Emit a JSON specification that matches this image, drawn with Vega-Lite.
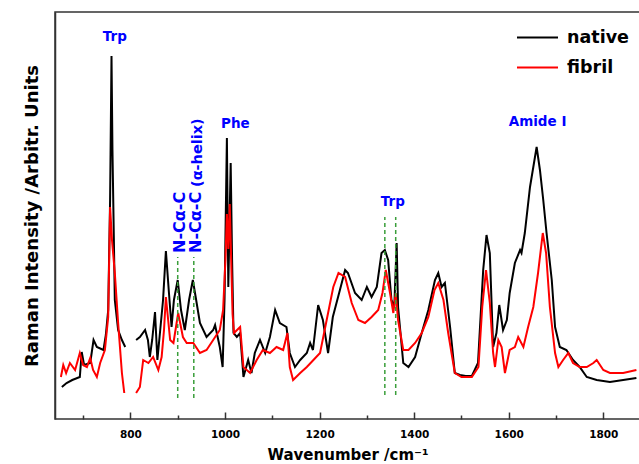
{
  "$schema": "https://vega.github.io/schema/vega-lite/v6.json",
  "width": 585,
  "height": 407,
  "autosize": {"type": "none"},
  "padding": {"left": 55, "top": 12, "right": 0, "bottom": 45},
  "background": "white",
  "config": {"view": {"stroke": "#333333", "strokeWidth": 1.5}, "font": "DejaVu Sans"},
  "datasets": {
    "spec": [
      {"s":"native","g":"a","wn":655,"I":32},{"s":"native","g":"a","wn":665,"I":36},{"s":"native","g":"a","wn":677,"I":39},{"s":"native","g":"a","wn":693,"I":42},{"s":"native","g":"a","wn":697,"I":67},{"s":"native","g":"a","wn":702,"I":54},{"s":"native","g":"a","wn":715,"I":56},{"s":"native","g":"a","wn":722,"I":79},{"s":"native","g":"a","wn":729,"I":72},{"s":"native","g":"a","wn":743,"I":69},{"s":"native","g":"a","wn":748,"I":84},{"s":"native","g":"a","wn":753,"I":109},{"s":"native","g":"a","wn":757,"I":219},{"s":"native","g":"a","wn":760,"I":363},{"s":"native","g":"a","wn":762,"I":269},{"s":"native","g":"a","wn":767,"I":119},{"s":"native","g":"a","wn":774,"I":89},{"s":"native","g":"a","wn":782,"I":79},{"s":"native","g":"a","wn":789,"I":72},
      {"s":"native","g":"b","wn":812,"I":79},{"s":"native","g":"b","wn":820,"I":82},{"s":"native","g":"b","wn":831,"I":89},{"s":"native","g":"b","wn":837,"I":79},{"s":"native","g":"b","wn":841,"I":62},{"s":"native","g":"b","wn":846,"I":79},{"s":"native","g":"b","wn":852,"I":107},{"s":"native","g":"b","wn":857,"I":59},{"s":"native","g":"b","wn":863,"I":89},{"s":"native","g":"b","wn":869,"I":119},{"s":"native","g":"b","wn":875,"I":168},{"s":"native","g":"b","wn":881,"I":129},{"s":"native","g":"b","wn":887,"I":92},{"s":"native","g":"b","wn":892,"I":119},{"s":"native","g":"b","wn":900,"I":139},{"s":"native","g":"b","wn":907,"I":109},{"s":"native","g":"b","wn":915,"I":89},{"s":"native","g":"b","wn":924,"I":119},{"s":"native","g":"b","wn":932,"I":139},{"s":"native","g":"b","wn":939,"I":119},{"s":"native","g":"b","wn":947,"I":96},{"s":"native","g":"b","wn":961,"I":82},{"s":"native","g":"b","wn":975,"I":89},{"s":"native","g":"b","wn":979,"I":94},{"s":"native","g":"b","wn":989,"I":72},{"s":"native","g":"b","wn":995,"I":52},{"s":"native","g":"b","wn":999,"I":119},{"s":"native","g":"b","wn":1004,"I":281},{"s":"native","g":"b","wn":1007,"I":132},{"s":"native","g":"b","wn":1012,"I":256},{"s":"native","g":"b","wn":1015,"I":159},{"s":"native","g":"b","wn":1018,"I":86},{"s":"native","g":"b","wn":1025,"I":82},{"s":"native","g":"b","wn":1032,"I":86},{"s":"native","g":"b","wn":1039,"I":42},{"s":"native","g":"b","wn":1049,"I":59},{"s":"native","g":"b","wn":1056,"I":46},{"s":"native","g":"b","wn":1063,"I":66},{"s":"native","g":"b","wn":1074,"I":79},{"s":"native","g":"b","wn":1085,"I":66},{"s":"native","g":"b","wn":1095,"I":82},{"s":"native","g":"b","wn":1106,"I":109},{"s":"native","g":"b","wn":1116,"I":96},{"s":"native","g":"b","wn":1130,"I":92},{"s":"native","g":"b","wn":1137,"I":66},{"s":"native","g":"b","wn":1148,"I":52},{"s":"native","g":"b","wn":1159,"I":59},{"s":"native","g":"b","wn":1173,"I":66},{"s":"native","g":"b","wn":1180,"I":76},{"s":"native","g":"b","wn":1186,"I":69},{"s":"native","g":"b","wn":1197,"I":114},{"s":"native","g":"b","wn":1207,"I":99},{"s":"native","g":"b","wn":1218,"I":66},{"s":"native","g":"b","wn":1228,"I":102},{"s":"native","g":"b","wn":1243,"I":129},{"s":"native","g":"b","wn":1254,"I":149},{"s":"native","g":"b","wn":1260,"I":146},{"s":"native","g":"b","wn":1275,"I":126},{"s":"native","g":"b","wn":1289,"I":119},{"s":"native","g":"b","wn":1300,"I":132},{"s":"native","g":"b","wn":1310,"I":122},{"s":"native","g":"b","wn":1321,"I":132},{"s":"native","g":"b","wn":1331,"I":166},{"s":"native","g":"b","wn":1338,"I":169},{"s":"native","g":"b","wn":1345,"I":159},{"s":"native","g":"b","wn":1352,"I":119},{"s":"native","g":"b","wn":1358,"I":112},{"s":"native","g":"b","wn":1363,"I":176},{"s":"native","g":"b","wn":1366,"I":112},{"s":"native","g":"b","wn":1377,"I":56},{"s":"native","g":"b","wn":1388,"I":52},{"s":"native","g":"b","wn":1402,"I":62},{"s":"native","g":"b","wn":1416,"I":86},{"s":"native","g":"b","wn":1430,"I":109},{"s":"native","g":"b","wn":1444,"I":139},{"s":"native","g":"b","wn":1451,"I":146},{"s":"native","g":"b","wn":1458,"I":132},{"s":"native","g":"b","wn":1465,"I":136},{"s":"native","g":"b","wn":1476,"I":92},{"s":"native","g":"b","wn":1486,"I":46},{"s":"native","g":"b","wn":1497,"I":44},{"s":"native","g":"b","wn":1509,"I":43},{"s":"native","g":"b","wn":1522,"I":43},{"s":"native","g":"b","wn":1535,"I":56},{"s":"native","g":"b","wn":1546,"I":149},{"s":"native","g":"b","wn":1553,"I":184},{"s":"native","g":"b","wn":1560,"I":166},{"s":"native","g":"b","wn":1567,"I":72},{"s":"native","g":"b","wn":1574,"I":86},{"s":"native","g":"b","wn":1580,"I":114},{"s":"native","g":"b","wn":1588,"I":89},{"s":"native","g":"b","wn":1596,"I":99},{"s":"native","g":"b","wn":1602,"I":126},{"s":"native","g":"b","wn":1613,"I":156},{"s":"native","g":"b","wn":1624,"I":169},{"s":"native","g":"b","wn":1627,"I":166},{"s":"native","g":"b","wn":1634,"I":186},{"s":"native","g":"b","wn":1645,"I":232},{"s":"native","g":"b","wn":1659,"I":272},{"s":"native","g":"b","wn":1666,"I":249},{"s":"native","g":"b","wn":1673,"I":219},{"s":"native","g":"b","wn":1680,"I":186},{"s":"native","g":"b","wn":1691,"I":139},{"s":"native","g":"b","wn":1698,"I":92},{"s":"native","g":"b","wn":1708,"I":72},{"s":"native","g":"b","wn":1722,"I":69},{"s":"native","g":"b","wn":1736,"I":59},{"s":"native","g":"b","wn":1750,"I":52},{"s":"native","g":"b","wn":1765,"I":42},{"s":"native","g":"b","wn":1786,"I":39},{"s":"native","g":"b","wn":1814,"I":37},{"s":"native","g":"b","wn":1842,"I":39},{"s":"native","g":"b","wn":1870,"I":41},
      {"s":"fibril","g":"a","wn":653,"I":42},{"s":"fibril","g":"a","wn":658,"I":54},{"s":"fibril","g":"a","wn":664,"I":46},{"s":"fibril","g":"a","wn":672,"I":56},{"s":"fibril","g":"a","wn":683,"I":49},{"s":"fibril","g":"a","wn":693,"I":66},{"s":"fibril","g":"a","wn":700,"I":54},{"s":"fibril","g":"a","wn":708,"I":52},{"s":"fibril","g":"a","wn":715,"I":61},{"s":"fibril","g":"a","wn":721,"I":49},{"s":"fibril","g":"a","wn":729,"I":42},{"s":"fibril","g":"a","wn":736,"I":56},{"s":"fibril","g":"a","wn":746,"I":69},{"s":"fibril","g":"a","wn":753,"I":102},{"s":"fibril","g":"a","wn":757,"I":212},{"s":"fibril","g":"a","wn":761,"I":179},{"s":"fibril","g":"a","wn":767,"I":146},{"s":"fibril","g":"a","wn":774,"I":96},{"s":"fibril","g":"a","wn":782,"I":46},{"s":"fibril","g":"a","wn":787,"I":26},
      {"s":"fibril","g":"b","wn":812,"I":26},{"s":"fibril","g":"b","wn":820,"I":32},{"s":"fibril","g":"b","wn":827,"I":59},{"s":"fibril","g":"b","wn":838,"I":56},{"s":"fibril","g":"b","wn":848,"I":62},{"s":"fibril","g":"b","wn":859,"I":49},{"s":"fibril","g":"b","wn":866,"I":62},{"s":"fibril","g":"b","wn":871,"I":89},{"s":"fibril","g":"b","wn":875,"I":122},{"s":"fibril","g":"b","wn":884,"I":79},{"s":"fibril","g":"b","wn":891,"I":76},{"s":"fibril","g":"b","wn":901,"I":106},{"s":"fibril","g":"b","wn":911,"I":82},{"s":"fibril","g":"b","wn":919,"I":76},{"s":"fibril","g":"b","wn":933,"I":76},{"s":"fibril","g":"b","wn":947,"I":66},{"s":"fibril","g":"b","wn":961,"I":69},{"s":"fibril","g":"b","wn":975,"I":79},{"s":"fibril","g":"b","wn":989,"I":89},{"s":"fibril","g":"b","wn":996,"I":109},{"s":"fibril","g":"b","wn":1001,"I":160},{"s":"fibril","g":"b","wn":1004,"I":205},{"s":"fibril","g":"b","wn":1007,"I":170},{"s":"fibril","g":"b","wn":1010,"I":215},{"s":"fibril","g":"b","wn":1013,"I":160},{"s":"fibril","g":"b","wn":1016,"I":105},{"s":"fibril","g":"b","wn":1019,"I":86},{"s":"fibril","g":"b","wn":1032,"I":92},{"s":"fibril","g":"b","wn":1039,"I":52},{"s":"fibril","g":"b","wn":1053,"I":46},{"s":"fibril","g":"b","wn":1067,"I":59},{"s":"fibril","g":"b","wn":1080,"I":69},{"s":"fibril","g":"b","wn":1095,"I":66},{"s":"fibril","g":"b","wn":1109,"I":72},{"s":"fibril","g":"b","wn":1123,"I":69},{"s":"fibril","g":"b","wn":1132,"I":86},{"s":"fibril","g":"b","wn":1137,"I":52},{"s":"fibril","g":"b","wn":1144,"I":39},{"s":"fibril","g":"b","wn":1159,"I":46},{"s":"fibril","g":"b","wn":1173,"I":52},{"s":"fibril","g":"b","wn":1187,"I":59},{"s":"fibril","g":"b","wn":1201,"I":66},{"s":"fibril","g":"b","wn":1215,"I":99},{"s":"fibril","g":"b","wn":1229,"I":132},{"s":"fibril","g":"b","wn":1240,"I":146},{"s":"fibril","g":"b","wn":1254,"I":142},{"s":"fibril","g":"b","wn":1268,"I":116},{"s":"fibril","g":"b","wn":1282,"I":99},{"s":"fibril","g":"b","wn":1296,"I":96},{"s":"fibril","g":"b","wn":1310,"I":102},{"s":"fibril","g":"b","wn":1324,"I":109},{"s":"fibril","g":"b","wn":1333,"I":126},{"s":"fibril","g":"b","wn":1340,"I":149},{"s":"fibril","g":"b","wn":1349,"I":126},{"s":"fibril","g":"b","wn":1356,"I":106},{"s":"fibril","g":"b","wn":1361,"I":126},{"s":"fibril","g":"b","wn":1366,"I":99},{"s":"fibril","g":"b","wn":1377,"I":69},{"s":"fibril","g":"b","wn":1388,"I":69},{"s":"fibril","g":"b","wn":1402,"I":76},{"s":"fibril","g":"b","wn":1416,"I":86},{"s":"fibril","g":"b","wn":1430,"I":102},{"s":"fibril","g":"b","wn":1443,"I":129},{"s":"fibril","g":"b","wn":1451,"I":136},{"s":"fibril","g":"b","wn":1462,"I":119},{"s":"fibril","g":"b","wn":1472,"I":86},{"s":"fibril","g":"b","wn":1486,"I":46},{"s":"fibril","g":"b","wn":1500,"I":42},{"s":"fibril","g":"b","wn":1522,"I":42},{"s":"fibril","g":"b","wn":1536,"I":52},{"s":"fibril","g":"b","wn":1544,"I":112},{"s":"fibril","g":"b","wn":1552,"I":149},{"s":"fibril","g":"b","wn":1560,"I":116},{"s":"fibril","g":"b","wn":1567,"I":66},{"s":"fibril","g":"b","wn":1571,"I":52},{"s":"fibril","g":"b","wn":1578,"I":79},{"s":"fibril","g":"b","wn":1585,"I":72},{"s":"fibril","g":"b","wn":1592,"I":46},{"s":"fibril","g":"b","wn":1602,"I":69},{"s":"fibril","g":"b","wn":1613,"I":72},{"s":"fibril","g":"b","wn":1620,"I":82},{"s":"fibril","g":"b","wn":1631,"I":72},{"s":"fibril","g":"b","wn":1641,"I":92},{"s":"fibril","g":"b","wn":1652,"I":112},{"s":"fibril","g":"b","wn":1662,"I":146},{"s":"fibril","g":"b","wn":1672,"I":186},{"s":"fibril","g":"b","wn":1679,"I":166},{"s":"fibril","g":"b","wn":1687,"I":112},{"s":"fibril","g":"b","wn":1698,"I":66},{"s":"fibril","g":"b","wn":1705,"I":52},{"s":"fibril","g":"b","wn":1715,"I":59},{"s":"fibril","g":"b","wn":1726,"I":66},{"s":"fibril","g":"b","wn":1736,"I":56},{"s":"fibril","g":"b","wn":1750,"I":52},{"s":"fibril","g":"b","wn":1765,"I":52},{"s":"fibril","g":"b","wn":1779,"I":56},{"s":"fibril","g":"b","wn":1786,"I":59},{"s":"fibril","g":"b","wn":1800,"I":49},{"s":"fibril","g":"b","wn":1814,"I":46},{"s":"fibril","g":"b","wn":1842,"I":46},{"s":"fibril","g":"b","wn":1870,"I":49}
    ]
  },
  "layer": [
    {
      "data": {"name": "spec"},
      "transform": [{"filter": "datum.s === 'native'"}],
      "mark": {"type": "line", "strokeWidth": 2},
      "encoding": {
        "x": {"field": "wn", "type": "quantitative", "scale": {"domain": [640.5, 1877.6], "nice": false, "zero": false},
          "axis": {"values": [800, 1000, 1200, 1400, 1600, 1800], "format": "d", "title": "Wavenumber /cm⁻¹",
            "titleFont": "DejaVu Sans", "titleFontSize": 15, "titleFontWeight": "bold", "titleColor": "black", "titlePadding": 8,
            "labelFont": "DejaVu Sans", "labelFontSize": 10.5, "labelFontWeight": "bold", "labelColor": "black", "labelPadding": 17,
            "labelFlush": false, "labelOverlap": false,
            "tickSize": -7, "tickColor": "#333333", "tickWidth": 1.5, "domain": false, "grid": false}},
        "y": {"field": "I", "type": "quantitative", "scale": {"domain": [0, 407], "nice": false, "zero": false},
          "axis": {"title": "Raman Intensity /Arbitr. Units", "labels": false, "ticks": false, "domain": true, "domainColor": "#333333", "domainWidth": 1.5, "grid": false,
            "titleFont": "DejaVu Sans", "titleFontSize": 18, "titleFontWeight": "bold", "titleColor": "black", "titlePadding": 14}},
        "color": {"field": "s", "type": "nominal", "scale": {"domain": ["native", "fibril"], "range": ["#000000", "#ff0000"]},
          "legend": {"orient": "none", "legendX": 461, "legendY": 4, "title": null, "symbolType": "stroke", "symbolSize": 1681,
            "symbolStrokeWidth": 2, "labelFont": "DejaVu Sans", "labelFontSize": 17.5, "labelFontWeight": "bold", "labelColor": "black",
            "labelOffset": 8, "rowPadding": -11, "padding": 0}},
        "detail": {"field": "g", "type": "nominal"}
      }
    },
    {
      "data": {"name": "spec"},
      "transform": [{"filter": "datum.s === 'fibril'"}],
      "mark": {"type": "line", "strokeWidth": 2},
      "encoding": {
        "x": {"field": "wn", "type": "quantitative", "scale": {"domain": [640.5, 1877.6], "nice": false, "zero": false}, "axis": null},
        "y": {"field": "I", "type": "quantitative", "scale": {"domain": [0, 407], "nice": false, "zero": false},
          "axis": {"title": "Raman Intensity /Arbitr. Units", "labels": false, "ticks": false, "domain": true, "domainColor": "#333333", "domainWidth": 1.5, "grid": false,
            "titleFont": "DejaVu Sans", "titleFontSize": 18, "titleFontWeight": "bold", "titleColor": "black", "titlePadding": 14}},
        "color": {"field": "s", "type": "nominal", "scale": {"domain": ["native", "fibril"], "range": ["#000000", "#ff0000"]},
          "legend": {"orient": "none", "legendX": 461, "legendY": 4, "title": null, "symbolType": "stroke", "symbolSize": 1681,
            "symbolStrokeWidth": 2, "labelFont": "DejaVu Sans", "labelFontSize": 17.5, "labelFontWeight": "bold", "labelColor": "black",
            "labelOffset": 8, "rowPadding": -11, "padding": 0}},
        "detail": {"field": "g", "type": "nominal"}
      }
    },
    {
      "data": {"values": [
        {"wn": 900, "y0": 21, "y1": 162},
        {"wn": 934, "y0": 21, "y1": 162},
        {"wn": 1338, "y0": 24, "y1": 202},
        {"wn": 1361, "y0": 24, "y1": 202}
      ]},
      "mark": {"type": "rule", "color": "#3a9e3a", "strokeWidth": 1.5, "strokeDash": [4, 3]},
      "encoding": {
        "x": {"field": "wn", "type": "quantitative", "scale": {"domain": [640.5, 1877.6], "nice": false, "zero": false},
          "axis": {"orient": "bottom", "values": [700, 900, 1100, 1300, 1500, 1700], "labels": false, "title": null, "domain": false,
            "grid": false, "tickSize": -4, "tickColor": "#333333", "tickWidth": 1.5}},
        "y": {"field": "y0", "type": "quantitative", "scale": {"domain": [0, 407], "nice": false, "zero": false},
          "axis": {"title": "Raman Intensity /Arbitr. Units", "labels": false, "ticks": false, "domain": true, "domainColor": "#333333", "domainWidth": 1.5, "grid": false,
            "titleFont": "DejaVu Sans", "titleFontSize": 18, "titleFontWeight": "bold", "titleColor": "black", "titlePadding": 14}},
        "y2": {"field": "y1"}
      }
    },
    {
      "data": {"values": [
        {"label": "Trp", "wn": 767, "I": 382},
        {"label": "Phe", "wn": 1022, "I": 295},
        {"label": "Trp", "wn": 1355, "I": 217},
        {"label": "Amide I", "wn": 1661, "I": 297}
      ]},
      "mark": {"type": "text", "font": "DejaVu Sans", "fontWeight": "bold", "fontSize": 13.5, "color": "#0000ff", "align": "center", "baseline": "middle"},
      "encoding": {
        "x": {"field": "wn", "type": "quantitative", "scale": {"domain": [640.5, 1877.6], "nice": false, "zero": false}, "axis": null},
        "y": {"field": "I", "type": "quantitative", "scale": {"domain": [0, 407], "nice": false, "zero": false},
          "axis": {"title": "Raman Intensity /Arbitr. Units", "labels": false, "ticks": false, "domain": true, "domainColor": "#333333", "domainWidth": 1.5, "grid": false,
            "titleFont": "DejaVu Sans", "titleFontSize": 18, "titleFontWeight": "bold", "titleColor": "black", "titlePadding": 14}},
        "text": {"field": "label"}
      }
    },
    {
      "data": {"values": [
        {"label": "N-Cα-C", "wn": 905, "I": 166},
        {"label": "N-Cα-C", "wn": 939, "I": 166}
      ]},
      "mark": {"type": "text", "font": "DejaVu Sans", "fontWeight": "bold", "fontSize": 16, "color": "#0000ff", "align": "left", "baseline": "middle", "angle": 270},
      "encoding": {
        "x": {"field": "wn", "type": "quantitative", "scale": {"domain": [640.5, 1877.6], "nice": false, "zero": false}, "axis": null},
        "y": {"field": "I", "type": "quantitative", "scale": {"domain": [0, 407], "nice": false, "zero": false},
          "axis": {"title": "Raman Intensity /Arbitr. Units", "labels": false, "ticks": false, "domain": true, "domainColor": "#333333", "domainWidth": 1.5, "grid": false,
            "titleFont": "DejaVu Sans", "titleFontSize": 18, "titleFontWeight": "bold", "titleColor": "black", "titlePadding": 14}},
        "text": {"field": "label"}
      }
    },
    {
      "data": {"values": [
        {"label": "(α-helix)", "wn": 943, "I": 232}
      ]},
      "mark": {"type": "text", "font": "DejaVu Sans", "fontWeight": "bold", "fontSize": 14.5, "color": "#0000ff", "align": "left", "baseline": "middle", "angle": 270},
      "encoding": {
        "x": {"field": "wn", "type": "quantitative", "scale": {"domain": [640.5, 1877.6], "nice": false, "zero": false}, "axis": null},
        "y": {"field": "I", "type": "quantitative", "scale": {"domain": [0, 407], "nice": false, "zero": false},
          "axis": {"title": "Raman Intensity /Arbitr. Units", "labels": false, "ticks": false, "domain": true, "domainColor": "#333333", "domainWidth": 1.5, "grid": false,
            "titleFont": "DejaVu Sans", "titleFontSize": 18, "titleFontWeight": "bold", "titleColor": "black", "titlePadding": 14}},
        "text": {"field": "label"}
      }
    }
  ],
  "resolve": {"axis": {"x": "independent"}}
}
